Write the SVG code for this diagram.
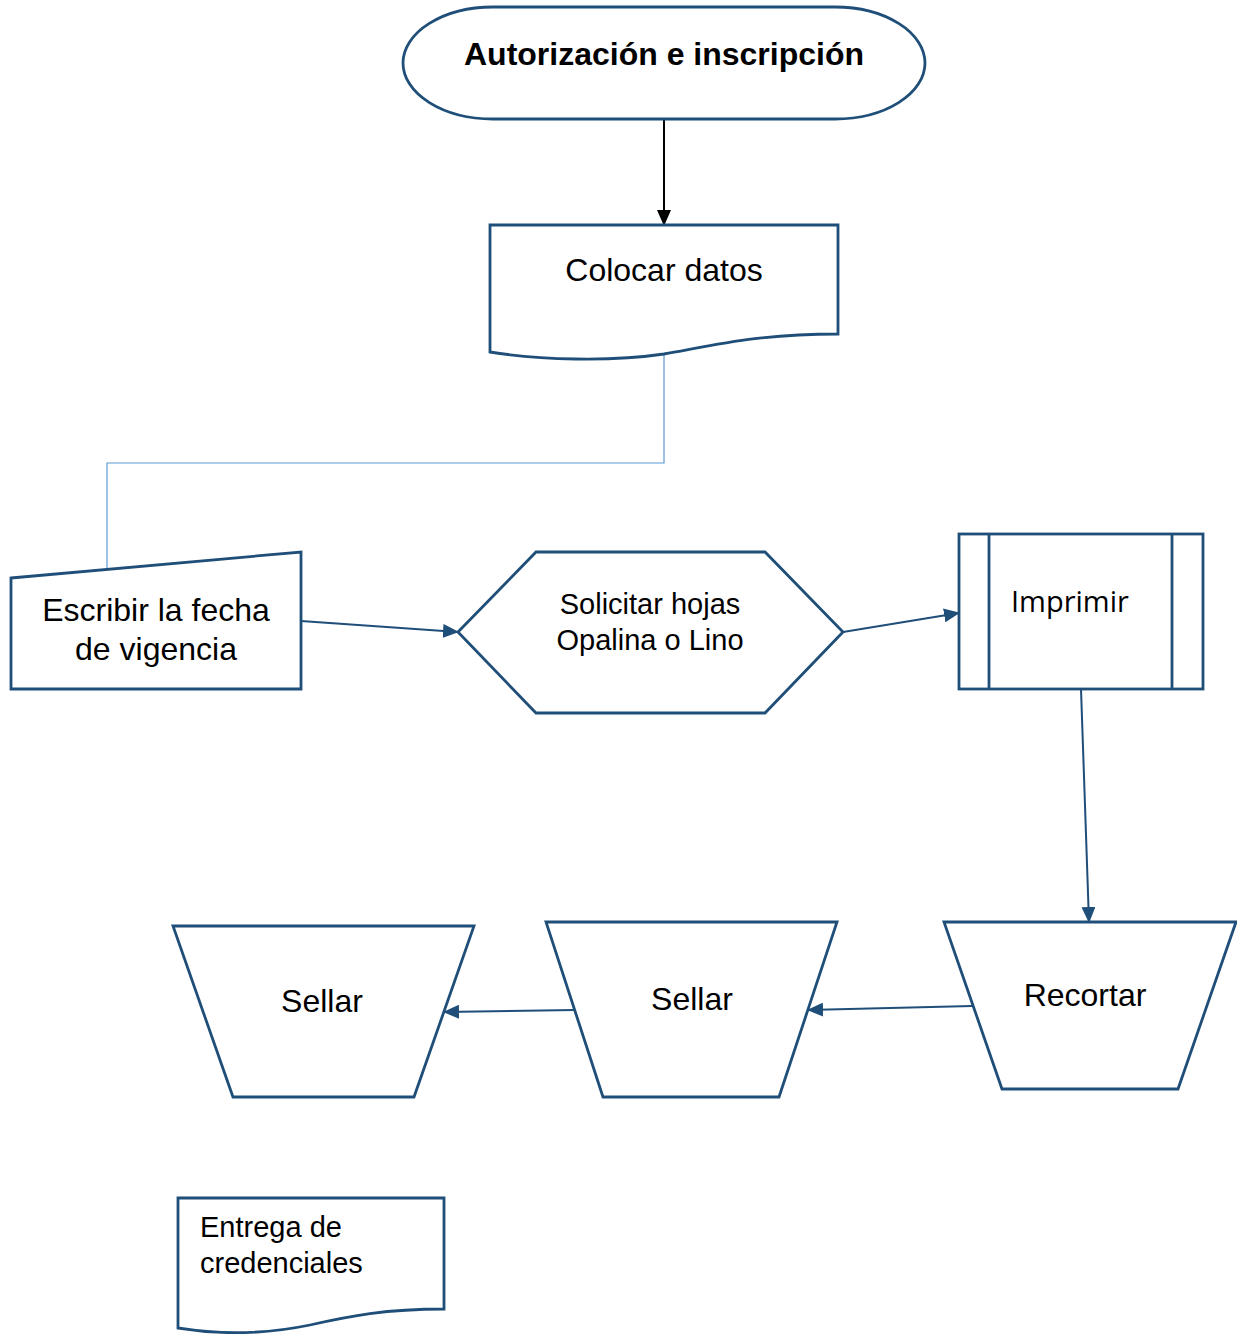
<svg xmlns="http://www.w3.org/2000/svg" width="1237" height="1334" viewBox="0 0 1237 1334">
<defs>
<style>
.s{fill:#fff;stroke:#1F4E79;stroke-width:2.8;stroke-linejoin:miter}
.t{font-family:"Liberation Sans",Arial,sans-serif;fill:#000}
.c{stroke:#1F4E79;stroke-width:2;fill:none}
</style>
<marker id="ab2" markerWidth="16" markerHeight="14" refX="15" refY="7" orient="auto" markerUnits="userSpaceOnUse"><path d="M0,0 L16,7 L0,14 Z" fill="#1F4E79"/></marker>
<marker id="ak2" markerWidth="16" markerHeight="14" refX="15" refY="7" orient="auto" markerUnits="userSpaceOnUse"><path d="M0,0 L16,7 L0,14 Z" fill="#000"/></marker>
</defs>
<rect width="1237" height="1334" fill="#fff"/>
<g id="connectors">
<line x1="664" y1="119" x2="664" y2="225" stroke="#000" stroke-width="2" marker-end="url(#ak2)"/>
<polyline points="664,354 664,463 107,463 107,571" fill="none" stroke="#5B9BD5" stroke-width="1.2"/>
<line class="c" x1="301" y1="621" x2="458" y2="632" marker-end="url(#ab2)"/>
<line class="c" x1="843" y1="632" x2="959" y2="613" marker-end="url(#ab2)"/>
<line class="c" x1="1081" y1="689" x2="1089" y2="922" marker-end="url(#ab2)"/>
<line class="c" x1="972" y1="1006" x2="808" y2="1010" marker-end="url(#ab2)"/>
<line class="c" x1="575" y1="1010" x2="444" y2="1012" marker-end="url(#ab2)"/>
</g>
<g id="n-inicio">
<rect class="s" x="403" y="7" width="522" height="112" rx="90" ry="56"/>
<text class="t" x="664" y="65" text-anchor="middle" font-weight="bold" font-size="32">Autorización e inscripción</text>
</g>
<g id="n-colocar">
<path class="s" d="M490,225 H838 V334 C760,334 720,344 664,354 C610,362 540,360 490,352 Z"/>
<text class="t" x="664" y="281" text-anchor="middle" font-size="32">Colocar datos</text>
</g>
<g id="n-escribir">
<polygon class="s" points="11,578 301,552 301,689 11,689"/>
<text class="t" x="156" y="621" text-anchor="middle" font-size="32">Escribir la fecha</text>
<text class="t" x="156" y="660" text-anchor="middle" font-size="32">de vigencia</text>
</g>
<g id="n-solicitar">
<polygon class="s" points="458,632 536,552 765,552 843,632 765,713 536,713"/>
<text class="t" x="650" y="614" text-anchor="middle" font-size="29">Solicitar hojas</text>
<text class="t" x="650" y="650" text-anchor="middle" font-size="29">Opalina o Lino</text>
</g>
<g id="n-imprimir">
<rect class="s" x="959" y="534" width="244" height="155"/>
<line x1="989" y1="534" x2="989" y2="689" stroke="#1F4E79" stroke-width="2.8"/>
<line x1="1172" y1="534" x2="1172" y2="689" stroke="#1F4E79" stroke-width="2.8"/>
<text x="1011" y="612" font-family="'Open Sans','Noto Sans',sans-serif" font-size="29" fill="#000">Imprimir</text>
</g>
<g id="n-recortar">
<polygon class="s" points="944,922 1236,922 1178,1089 1002,1089"/>
<text class="t" x="1085" y="1006" text-anchor="middle" font-size="32">Recortar</text>
</g>
<g id="n-sellar2">
<polygon class="s" points="546,922 837,922 779,1097 603,1097"/>
<text class="t" x="692" y="1010" text-anchor="middle" font-size="32">Sellar</text>
</g>
<g id="n-sellar1">
<polygon class="s" points="173,926 474,926 414,1097 233,1097"/>
<text class="t" x="322" y="1012" text-anchor="middle" font-size="32">Sellar</text>
</g>
<g id="n-entrega">
<path class="s" d="M178,1198 H444 V1309 C385,1309 350,1316 310,1325 C262,1335 215,1334 178,1328 Z"/>
<text class="t" x="200" y="1237" font-size="29">Entrega de</text>
<text class="t" x="200" y="1273" font-size="29">credenciales</text>
</g>
</svg>
